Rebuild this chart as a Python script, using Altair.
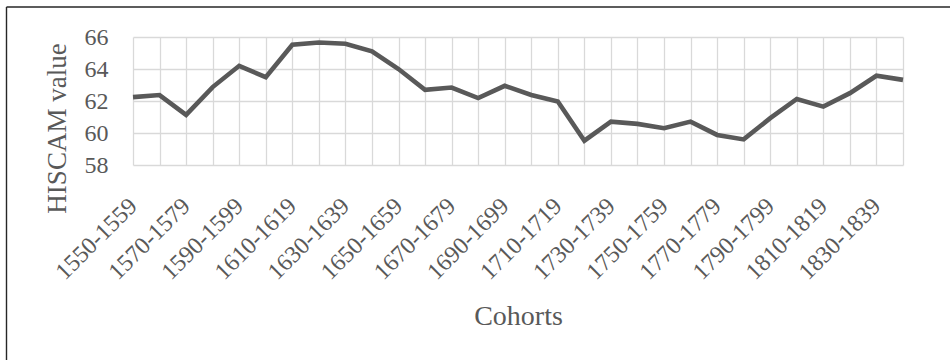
import altair as alt
import pandas as pd

# Birth cohorts (decades) and mean HISCAM score per cohort
cohorts = [f"{y}-{y + 9}" for y in range(1550, 1850, 10)]
hiscam = [
    62.24, 62.37, 61.13, 62.87, 64.20, 63.49, 65.52, 65.66, 65.58, 65.10,
    64.00, 62.70, 62.84, 62.18, 62.95, 62.38, 61.97, 59.52, 60.71, 60.57,
    60.30, 60.71, 59.88, 59.60, 60.93, 62.13, 61.65, 62.49, 63.58, 63.32,
]
y_ticks = [58, 60, 62, 64, 66]
shown_labels = cohorts[::2]

df = pd.DataFrame({"cohort": cohorts, "hiscam": hiscam})

TEXT = "#595959"
GRID = "#d9d9d9"
FONT = "Liberation Serif"

label_list = "[" + ",".join(f"'{c}'" for c in shown_labels) + "]"

line = alt.Chart(df).mark_line(color="#595959", strokeWidth=4.6, strokeJoin="miter").encode(
    x=alt.X(
        "cohort:N",
        sort=None,
        scale=alt.Scale(type="point", padding=0),
        axis=alt.Axis(
            title="Cohorts",
            labelExpr=f"indexof({label_list}, datum.label) >= 0 ? datum.label : ''",
            labelAngle=-45,
            labelAlign="right",
            labelBaseline="middle",
            labelPadding=37,
            labelFont=FONT,
            labelFontSize=24,
            labelColor=TEXT,
            labelOverlap=False,
            ticks=False,
            domain=False,
            grid=True,
            gridColor=GRID,
            gridWidth=1.3,
            titleFont=FONT,
            titleFontSize=28,
            titleFontWeight="normal",
            titleColor=TEXT,
            titleBaseline="alphabetic",
            titleY=159,
        ),
    ),
    y=alt.Y(
        "hiscam:Q",
        scale=alt.Scale(domain=[58, 66], nice=False, zero=False),
        axis=alt.Axis(
            title="HISCAM value",
            values=y_ticks,
            labelFont=FONT,
            labelFontSize=24,
            labelColor=TEXT,
            labelPadding=25,
            ticks=False,
            domain=False,
            grid=True,
            gridColor=GRID,
            gridWidth=1.3,
            titleFont=FONT,
            titleFontSize=27,
            titleFontWeight="normal",
            titleColor=TEXT,
            titleAngle=270,
            titleAlign="center",
            titleBaseline="alphabetic",
            titleX=-68,
            titleY=91,
        ),
    ),
)

# Chart frame (left and top edges)
frame_data = alt.Data(values=[{"k": 0}])
frame_left = alt.Chart(frame_data).mark_rule(color="#262626", strokeWidth=1.4).encode(
    x=alt.value(-126.5), y=alt.value(-30), y2=alt.value(400)
)
frame_top = alt.Chart(frame_data).mark_rule(color="#262626", strokeWidth=1.4).encode(
    x=alt.value(-126.5), x2=alt.value(900), y=alt.value(-30)
)

chart = (
    alt.layer(line, frame_left, frame_top)
    .properties(
        width=770,
        height=128,
        autosize=alt.AutoSizeParams(type="none"),
        padding={"left": 133, "top": 37, "right": 47, "bottom": 195},
        background="white",
    )
    .configure_view(strokeWidth=0)
)

chart.save("out.html", embed_options={"renderer": "svg", "actions": False})
